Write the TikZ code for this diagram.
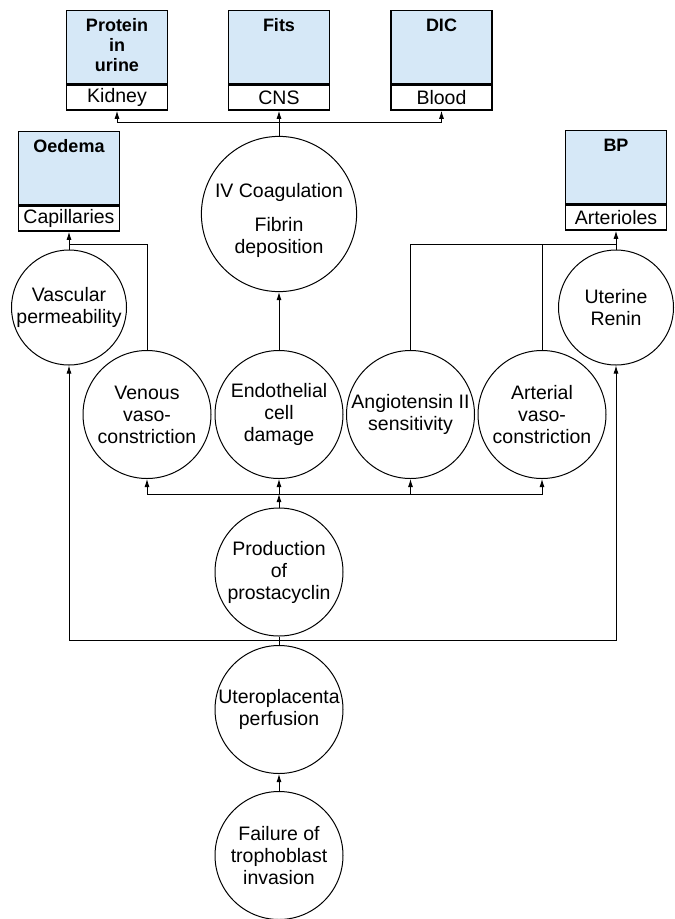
\documentclass[tikz,border=0pt]{standalone}
\usepackage{fontspec}
\setmainfont{Liberation Sans}
\usetikzlibrary{arrows.meta, positioning}
\definecolor{effblue}{HTML}{D6E8F7}
\newcommand{\organbox}[5]{%
  % #1 name, #2 x, #3 top y, #4 effect, #5 organ
  \node[effect, anchor=north] (#1) at (#2,#3) {};
  \node[efftext, below=8.5pt of #1.north] (#1-text) {#4};
  \node[organ, anchor=north] (#1-organ) at (#1.south) {#5};%
}

\begin{document}
\begin{tikzpicture}[>={Latex[length=8pt,width=5pt]}, x=1pt, y=-1pt, line width=0.9pt]
    \tikzset{
      effect/.style={draw, fill=effblue, line width=1.4pt, minimum width=101pt, minimum height=73pt, inner sep=0pt},
      organ/.style={draw, fill=white, line width=1.4pt, minimum width=101pt, minimum height=25pt, inner sep=0pt, font=\fontsize{19.5pt}{22pt}\selectfont},
      efftext/.style={inner sep=0pt, align=center, font=\fontsize{18pt}{20pt}\selectfont\bfseries},
      cell/.style={circle, draw, line width=1pt, inner sep=0pt, minimum size=128pt, align=center, font=\fontsize{19.5pt}{22pt}\selectfont}
    }
    \useasboundingbox (0,0) rectangle (675,919);

    % effects and target organs
    \organbox{kidney}{117}{10}{Protein\\in\\urine}{Kidney}
    \organbox{cns}{279}{10}{Fits}{CNS}
    \organbox{blood}{441.5}{10}{DIC}{Blood}
    \organbox{capill}{69}{131}{Oedema}{Capillaries}
    \organbox{arteriole}{616}{130}{BP}{Arterioles}

    % mechanisms
    \node[cell, minimum size=150pt] (coag) at (279,214) {\rule{0pt}{28pt}IV Coagulation\\[12pt]Fibrin\\deposition};
    \node[cell, minimum size=115pt] (vascular) at (69,307.5) {Vascular\\permeability};
    \node[cell, minimum size=115pt] (renin) at (616,307.5) {Uterine\\Renin};
    \node[cell] (venous) at (147,414.5) {Venous\\vaso-\\constriction};
    \node[cell] (endo) at (279,414.5) {Endothelial\\cell\\damage};
    \node[cell] (angio) at (410.5,414.5) {Angiotensin II\\sensitivity};
    \node[cell] (arterial) at (542,414.5) {Arterial\\vaso-\\constriction};
    \node[cell] (prosta) at (279,572) {Production\\of\\prostacyclin};
    \node[cell] (utero) at (279,709.5) {Uteroplacenta\\perfusion};
    \node[cell] (failure) at (279,855.5) {Failure of\\trophoblast\\invasion};

    % bus lines
    \coordinate (topbus) at (0,122.7);
    \coordinate (capbus) at (0,244.5);
    \coordinate (midbus) at (0,494);
    \coordinate (lowbus) at (0,640.7);

    \draw[<->] (kidney-organ) -- (kidney-organ |- topbus) -- (blood-organ |- topbus) -- (blood-organ);
    \draw[->] (coag) -- (cns-organ);
    \draw[->] (venous) |- (capill-organ |- capbus) -- (capill-organ);
    \draw (vascular) -- (vascular |- capbus);
    \draw[->] (angio) |- (arteriole-organ |- capbus) -- (arteriole-organ);
    \draw (arterial) -- (arterial |- capbus);
    \draw (renin) -- (renin |- capbus);
    \draw[->] (endo) -- (coag);
    \draw[->] (prosta) -- (prosta |- midbus);
    \draw[<->] (venous) -- (venous |- midbus) -- (arterial |- midbus) -- (arterial);
    \draw[->] (endo |- midbus) -- (endo);
    \draw[->] (angio |- midbus) -- (angio);
    \draw (utero) -- (prosta);
    \draw[<->] (vascular) -- (vascular |- lowbus) -- (renin |- lowbus) -- (renin);
    \draw[->] (failure) -- (utero);
  \end{tikzpicture}
\end{document}
